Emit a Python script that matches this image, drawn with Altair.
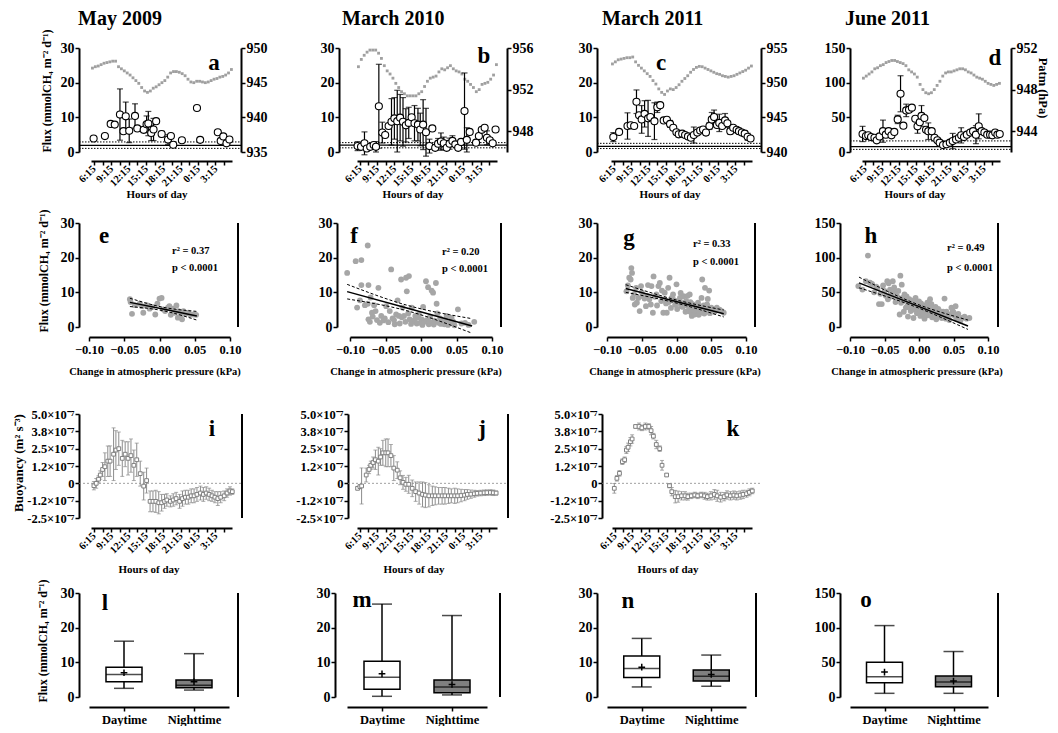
import json
import altair as alt
import pandas as pd

FONT = "Liberation Serif"
ONE = pd.DataFrame({"k": [0]})
PLOT_H = 104
COL_W = [157, 144, 141, 138]
ROW_H = [104, 120, 108, 104]

FLUX_TITLE = "Flux (mmolCH₄ m⁻² d⁻¹)"
BUOY_TITLE = "Buoyancy (m² s⁻³)"
COL_TITLES = ["May 2009", "March 2010", "March 2011", "June 2011"]

TIME_TICKS = [0, 1.5, 3, 4.5, 6, 7.5, 9, 10.5, 12, 13.5, 15, 16.5, 18, 19.5, 21, 22.5]
TIME_LABELS = ["6:15", "", "9:15", "", "12:15", "", "15:15", "", "18:15", "", "21:15", "", "0:15", "", "3:15", ""]
TIME_DOMAIN = [-0.5, 23.85]

# ---------------- Row 1: flux (hour, flux, sd) ----------------
A_PTS = [(-0.05, 3.9, 0), (1.9, 4.6, 0), (2.9, 8.1, 0), (3.6, 7.9, 0), (4.5, 10.8, 7.4), (5.1, 6.0, 0),
         (5.5, 10.3, 4.1), (6.1, 6.1, 3.4), (7.1, 10.4, 3.5), (7.5, 6.8, 0), (8.6, 6.4, 0.8), (9.1, 8.0, 2.4),
         (9.4, 8.2, 3.5), (9.9, 5.5, 2.2), (10.3, 6.5, 3.2), (10.75, 8.9, 0), (11.7, 5.2, 0.8), (12.8, 3.6, 1.4),
         (13.3, 4.6, 0), (13.7, 2.1, 0), (15.2, 3.4, 0), (17.8, 12.7, 0), (18.35, 3.5, 0), (21.4, 5.7, 0),
         (21.9, 3.2, 0), (22.35, 4.5, 0), (22.9, 2.5, 0), (23.4, 3.6, 0)]
B_PTS = [(-0.4, 1.7, 1.3), (0.2, 1.5, 0), (0.8, 2.5, 3.3), (1.2, 1.0, 0), (1.8, 1.5, 0), (2.4, 2.0, 0),
         (2.8, 1.5, 1.5), (3.3, 13.2, 12.1), (3.9, 5.6, 3.0), (4.4, 4.9, 0), (5.0, 7.5, 0), (5.5, 8.7, 6.7),
         (6.0, 9.7, 6.0), (6.5, 8.9, 8.9), (7.0, 9.9, 6.7), (7.5, 8.7, 7.0), (8.0, 7.7, 4.8), (8.5, 8.4, 4.5),
         (9.0, 10.0, 0), (9.5, 8.3, 5.1), (10.1, 7.9, 4.7), (10.5, 6.5, 4.7), (11.0, 7.9, 7.2), (11.5, 5.7, 6.9),
         (12.1, 1.7, 2.0), (12.6, 6.8, 0), (13.1, 1.2, 0), (13.6, 2.4, 1.5), (14.1, 3.0, 2.5), (14.6, 2.5, 1.8),
         (15.1, 1.2, 0), (15.6, 2.4, 1.6), (16.1, 3.2, 1.5), (16.6, 2.2, 0), (17.1, 1.2, 0), (17.6, 2.9, 0),
         (18.2, 11.8, 11.0), (18.6, 3.5, 3.5), (19.1, 5.8, 0), (20.2, 2.7, 0), (20.7, 4.6, 0), (21.2, 6.4, 0),
         (21.7, 7.0, 0), (22.1, 4.1, 2.0), (22.6, 3.4, 0), (23.1, 2.5, 0), (23.6, 6.5, 0)]
C_PTS = [(-0.1, 4.3, 1.3), (0.9, 5.8, 0), (2.35, 7.5, 3.8), (2.9, 7.7, 0), (3.5, 7.5, 0), (3.9, 14.5, 3.4),
         (4.35, 10.6, 0), (4.8, 9.4, 4.0), (5.3, 11.0, 3.8), (5.9, 9.7, 5.2), (6.3, 10.1, 0), (7.0, 8.9, 5.3),
         (7.5, 12.9, 1.5), (8.0, 13.5, 0), (8.6, 9.1, 0), (9.15, 9.3, 0), (9.7, 8.1, 1.0), (10.25, 7.0, 0),
         (10.8, 5.7, 0), (11.2, 5.1, 0.8), (11.8, 5.3, 0), (12.3, 4.9, 0), (12.8, 4.5, 0), (13.3, 4.1, 0.6),
         (13.8, 4.9, 2.3), (14.4, 5.6, 0), (14.9, 6.2, 0), (15.4, 6.5, 0), (15.9, 5.6, 0.8), (16.5, 7.5, 1.0),
         (16.9, 9.4, 2.0), (17.3, 10.1, 2.0), (17.8, 7.8, 0), (18.2, 8.4, 2.5), (18.7, 7.5, 0), (19.2, 9.1, 2.0),
         (19.6, 8.3, 0), (20.1, 6.0, 0.8), (20.6, 7.0, 0), (21.2, 6.4, 0), (21.6, 6.0, 0.8), (22.1, 5.6, 0),
         (22.6, 5.3, 0.8), (23.1, 4.4, 1.0), (23.6, 3.9, 0)]
D_PTS = [(-0.4, 26, 11), (0.2, 23, 0), (0.6, 24, 0), (1.1, 21.5, 0), (1.7, 20.6, 0), (2.1, 16.8, 0),
         (2.6, 22.5, 0), (3.2, 30, 16), (3.7, 25, 0), (4.2, 30, 0), (4.7, 24, 0), (5.2, 29, 0), (5.8, 47, 6),
         (6.3, 84, 26), (6.8, 38, 0), (7.3, 60, 9), (7.8, 61, 0), (8.3, 64, 0), (8.9, 48, 0), (9.3, 37, 10),
         (9.7, 43, 0), (10.0, 52, 15), (10.5, 49, 0), (10.8, 32, 0), (11.2, 30, 12), (11.8, 30, 0),
         (12.3, 20.6, 0), (12.8, 16.8, 0), (13.2, 13.4, 0), (13.8, 10, 0), (14.4, 11, 0), (15.0, 13.4, 0),
         (15.5, 15.8, 11), (16.1, 18, 0), (16.6, 20.6, 0), (17.0, 24, 11), (17.5, 21.5, 0), (18.0, 25, 0),
         (18.6, 28, 0), (19.1, 30, 0), (19.6, 25, 13), (20.1, 37, 18), (20.6, 30, 0), (21.1, 28, 0),
         (21.6, 25, 0), (22.1, 25, 0), (22.5, 24, 0), (23.0, 28, 0), (23.4, 25, 0), (23.8, 26, 0)]

P_HOURS = [-0.25, 0.25, 0.75, 1.25, 1.75, 2.25, 2.75, 3.25, 3.75, 4.25, 4.75, 5.25, 5.75, 6.25, 6.75,
           7.25, 7.75, 8.25, 8.75, 9.25, 9.75, 10.25, 10.75, 11.25, 11.75, 12.25, 12.75, 13.25, 13.75,
           14.25, 14.75, 15.25, 15.75, 16.25, 16.75, 17.25, 17.75, 18.25, 18.75, 19.25, 19.75, 20.25,
           20.75, 21.25, 21.75, 22.25, 22.75, 23.25, 23.75]
A_PATM = [947.1, 947.3, 947.4, 947.6, 947.8, 947.9, 948.0, 948.1, 948.1, 947.3, 947.0, 946.7, 946.4,
          946.1, 945.7, 945.3, 944.9, 944.3, 943.8, 943.6, 943.8, 944.2, 944.4, 944.7, 945.0, 945.3,
          945.8, 946.4, 946.6, 946.6, 946.5, 946.3, 946.0, 945.5, 945.1, 945.0, 945.2, 945.2, 945.1,
          945.0, 945.1, 945.3, 945.5, 945.6, 945.8, 945.9, 946.1, 946.4, 946.9]
B_PATM = [954.2, 954.9, 955.3, 955.6, 955.8, 955.8, 955.8, 955.5, 955.0, 954.3, 953.8, 953.5, 953.1,
          952.6, 952.2, 951.8, 951.6, 951.4, 951.4, 951.4, 951.4, 951.6, 951.8, 952.3, 952.8, 953.1,
          953.2, 953.3, 953.7, 954.0, 953.9, 954.1, 954.3, 954.0, 953.8, 953.7, 953.5, 953.0, 952.8,
          952.5, 952.2, 951.8, 952.0, 952.5, 952.6, 952.7, 953.0, 953.4, 954.4]
C_PATM = [952.7, 953.0, 953.3, 953.4, 953.5, 953.6, 953.6, 953.7, 953.0, 952.5, 952.1, 951.7, 951.3,
          950.9, 950.3, 949.8, 949.1, 948.6, 948.3, 948.8, 949.1, 949.0, 949.3, 949.7, 950.2, 950.6,
          951.0, 951.5, 951.9, 952.2, 952.35, 952.3, 952.1, 951.9, 951.7, 951.5, 951.3, 951.2, 951.0,
          950.9, 950.8, 950.9, 951.0, 951.2, 951.4, 951.6, 951.8, 952.1, 952.4]
D_PATM = [949.1, 949.3, 949.5, 949.7, 950.0, 950.1, 950.3, 950.4, 950.6, 950.7, 950.8, 950.8, 950.7,
          950.6, 950.5, 950.3, 949.9, 949.7, 949.5, 949.2, 948.5, 948.0, 947.7, 947.6, 947.7, 948.0,
          948.4, 948.8, 949.3, 949.6, 949.7, 949.7, 949.8, 949.9, 950.0, 950.0, 949.9, 949.7, 949.6,
          949.4, 949.2, 949.1, 949.0, 948.8, 948.6, 948.5, 948.4, 948.5, 948.6]
# reference lines: upper dotted, solid, lower dotted
A_REFS = [2.9, 1.9, 1.05]
B_REFS = [2.7, 2.0, 1.2]
C_REFS = [2.5, 1.6, 1.0]
D_REFS = [16, 7.7, 3.8]

# ---------------- Row 2: flux vs change in pressure ----------------
E_POINTS = [(-0.042, 8.0), (-0.041, 7.2), (-0.039, 3.8), (-0.035, 6.3), (-0.028, 6.7), (-0.025, 6.0),
            (-0.023, 4.1), (-0.018, 6.3), (-0.014, 5.3), (-0.010, 5.8), (-0.006, 3.6), (-0.003, 6.7),
            (0.000, 8.2), (0.003, 8.4), (0.005, 5.1), (0.008, 4.6), (0.012, 5.6), (0.014, 6.0), (0.016, 3.5),
            (0.019, 5.3), (0.021, 4.1), (0.024, 6.2), (0.026, 2.7), (0.027, 4.6), (0.030, 3.2), (0.032, 2.2),
            (0.034, 4.6), (0.037, 3.8), (0.041, 4.1), (0.044, 3.5), (0.048, 3.6), (0.052, 3.5)]
F_POINTS = [(-0.104, 15.6), (-0.092, 19.0), (-0.084, 19.3), (-0.090, 5.6), (-0.086, 7.7), (-0.084, 12.1),
            (-0.079, 6.3), (-0.075, 6.7), (-0.074, 12.1), (-0.075, 23.5), (-0.074, 2.2), (-0.072, 1.5),
            (-0.071, 8.5), (-0.069, 4.1), (-0.066, 6.3), (-0.064, 4.6), (-0.060, 11.3), (-0.058, 1.2),
            (-0.056, 3.2), (-0.053, 1.9), (-0.051, 2.5), (-0.049, 6.0), (-0.042, 16.6), (-0.040, 2.5),
            (-0.037, 0.8), (-0.035, 3.6), (-0.033, 7.7), (-0.031, 3.2), (-0.028, 13.7), (-0.026, 5.6),
            (-0.024, 3.2), (-0.021, 14.2), (-0.020, 10.3), (-0.017, 14.7), (-0.016, 2.2), (-0.013, 5.6),
            (-0.011, 1.7), (-0.008, 3.2), (-0.006, 1.0), (-0.004, 2.7), (-0.001, 1.2), (0.001, 2.2),
            (0.003, 5.8), (0.005, 1.5), (0.007, 13.2), (0.010, 11.5), (0.011, 0.8), (0.013, 3.0),
            (0.015, 10.5), (0.017, 9.9), (0.019, 1.8), (0.021, 12.7), (0.022, 6.7), (0.025, 1.2),
            (0.027, 2.5), (0.030, 1.7), (0.033, 0.8), (0.036, 3.2), (0.040, 1.2), (0.043, 2.6),
            (0.047, 0.5), (0.052, 5.1), (0.057, 1.0), (0.062, 1.2), (0.067, 0.6), (0.075, 1.5),
            (-0.068, 3.0), (-0.062, 2.0), (-0.046, 1.4), (-0.044, 4.6), (-0.038, 2.0), (-0.030, 1.0),
            (-0.027, 2.8), (-0.022, 1.5), (-0.018, 3.9), (-0.014, 0.9), (-0.009, 2.0), (-0.003, 3.6),
            (0.002, 0.6), (0.008, 2.0), (0.012, 1.5), (0.018, 0.7), (0.023, 3.9), (0.028, 0.9),
            (0.034, 1.8), (0.038, 0.6), (0.045, 1.6)]
G_POINTS = [(-0.072, 10.3), (-0.068, 14.2), (-0.065, 17.0), (-0.064, 15.6), (-0.066, 13.7), (-0.063, 8.4),
            (-0.060, 6.5), (-0.058, 11.3), (-0.055, 8.4), (-0.053, 4.6), (-0.051, 11.8), (-0.048, 8.9),
            (-0.046, 8.2), (-0.041, 12.1), (-0.036, 11.8), (-0.034, 4.1), (-0.033, 14.6), (-0.029, 9.4),
            (-0.026, 11.8), (-0.024, 12.7), (-0.022, 7.5), (-0.019, 4.1), (-0.017, 9.9), (-0.014, 4.1),
            (-0.012, 11.3), (-0.010, 14.2), (-0.007, 8.4), (-0.005, 9.4), (0.000, 12.3), (0.002, 7.5),
            (0.005, 8.4), (0.007, 6.0), (0.010, 8.9), (0.014, 7.5), (0.017, 4.6), (0.019, 9.4), (0.022, 3.2),
            (0.024, 5.6), (0.026, 3.6), (0.029, 6.0), (0.034, 4.1), (0.036, 8.4), (0.037, 13.7), (0.041, 11.3),
            (0.043, 5.6), (0.046, 4.6), (0.050, 5.6), (0.058, 5.6), (0.065, 4.6), (0.068, 4.1),
            (-0.070, 12.0), (-0.061, 9.5), (-0.057, 7.0), (-0.050, 10.0), (-0.044, 6.0), (-0.042, 9.0),
            (-0.039, 8.0), (-0.037, 6.5), (-0.031, 8.7), (-0.028, 6.2), (-0.021, 10.5), (-0.018, 8.0),
            (-0.015, 6.8), (-0.011, 7.2), (-0.008, 5.5), (-0.004, 7.8), (-0.002, 6.4), (0.001, 5.2),
            (0.004, 6.9), (0.006, 9.8), (0.009, 5.8), (0.011, 7.0), (0.013, 4.4), (0.015, 6.3), (0.016, 9.0),
            (0.018, 5.1), (0.020, 7.2), (0.021, 4.2), (0.023, 6.6), (0.025, 4.8), (0.027, 3.8), (0.028, 5.3),
            (0.030, 4.5), (0.031, 7.0), (0.032, 3.5), (0.033, 5.8), (0.035, 4.9), (0.038, 4.3), (0.039, 6.2),
            (0.040, 3.9), (0.042, 4.8), (0.044, 6.5), (0.045, 8.1), (0.047, 10.5), (0.048, 4.0), (0.052, 5.0),
            (0.055, 4.4), (0.062, 5.0)]
H_POINTS = [(-0.088, 59), (-0.082, 54), (-0.077, 66), (-0.074, 103), (-0.071, 64), (-0.068, 62), (-0.065, 50),
            (-0.062, 58), (-0.060, 56), (-0.058, 33), (-0.056, 48), (-0.054, 33), (-0.052, 60), (-0.050, 52),
            (-0.048, 45), (-0.046, 66), (-0.044, 63), (-0.042, 54), (-0.040, 44), (-0.038, 66), (-0.036, 57),
            (-0.034, 36), (-0.032, 45), (-0.030, 52), (-0.028, 18), (-0.027, 74), (-0.025, 61), (-0.024, 42),
            (-0.022, 22), (-0.020, 38), (-0.019, 28), (-0.018, 44), (-0.016, 15), (-0.015, 33), (-0.014, 40),
            (-0.012, 23), (-0.011, 37), (-0.010, 29), (-0.008, 13), (-0.007, 35), (-0.006, 25), (-0.005, 42),
            (-0.003, 20), (-0.002, 31), (0.000, 37), (0.001, 24), (0.002, 16), (0.003, 34), (0.005, 27),
            (0.006, 19), (0.007, 31), (0.008, 12), (0.009, 29), (0.011, 22), (0.012, 35), (0.013, 17),
            (0.015, 25), (0.016, 40), (0.017, 20), (0.019, 14), (0.020, 27), (0.022, 18), (0.023, 24),
            (0.025, 11), (0.027, 21), (0.029, 16), (0.031, 19), (0.033, 13), (0.035, 22), (0.037, 41),
            (0.039, 12), (0.041, 17), (0.044, 10), (0.047, 28), (0.049, 23), (0.052, 16), (0.055, 12),
            (0.060, 9), (0.066, 15), (0.069, 12), (0.073, 13),
            (-0.045, 40), (-0.041, 48), (-0.035, 51), (-0.031, 41), (-0.026, 35), (-0.021, 47), (-0.017, 30),
            (-0.013, 28), (-0.009, 38), (-0.004, 33), (0.004, 22), (0.010, 26), (0.014, 30), (0.018, 33),
            (0.021, 21), (0.024, 29), (0.026, 15), (0.028, 26), (0.030, 23), (0.032, 18), (0.034, 17),
            (0.036, 14), (0.038, 20), (0.040, 22), (0.042, 14), (0.046, 18), (0.050, 21), (0.053, 30),
            (0.057, 19), (0.062, 13)]
# regression line and 95% band: x, fit, upper, lower
E_FIT = [(-0.042, 7.1, 8.3, 5.9), (0.005, 5.2, 5.7, 4.7), (0.053, 3.2, 4.5, 2.0)]
F_FIT = [(-0.104, 10.2, 12.3, 8.1), (-0.02, 5.5, 6.3, 4.7), (0.072, 0.3, 2.4, -1.8)]
G_FIT = [(-0.073, 11.1, 12.2, 10.0), (-0.002, 7.45, 7.9, 7.0), (0.068, 3.8, 4.9, 2.9)]
H_FIT = [(-0.087, 63.7, 72.0, 56.5), (-0.008, 32.6, 35.0, 30.2), (0.071, 1.4, 10.0, -3.5)]
R2_TEXT = ["r² = 0.37", "r² = 0.20", "r² = 0.33", "r² = 0.49"]
P_TEXT = "p < 0.0001"
KPA_TICKS = [-0.1, -0.05, 0, 0.05, 0.1]

# ---------------- Row 3: buoyancy (hour, value in 1e-7 m2 s-3, sd) ----------------
BUOY_TICKS = [-2.5, -1.25, 0, 1.25, 2.5, 3.75, 5.0]
BUOY_LABELS = ["-2.5×10⁻⁷", "-1.2×10⁻⁷", "0", "1.2×10⁻⁷", "2.5×10⁻⁷", "3.8×10⁻⁷", "5.0×10⁻⁷"]
I_PTS = [(0.0, -0.17, 0.3), (0.4, 0.0, 0.35), (0.8, 0.3, 0.25), (1.1, 0.6, 0.3), (1.5, 1.0, 0.5), (1.9, 1.2, 1.0),
         (2.4, 1.6, 1.1), (2.8, 1.6, 1.1), (3.4, 2.1, 1.9), (3.8, 2.4, 1.4), (4.3, 2.5, 1.2), (4.9, 1.8, 1.3),
         (5.4, 2.1, 0.9), (5.9, 1.8, 1.2), (6.4, 2.0, 1.2), (6.9, 1.3, 1.1), (7.4, 1.7, 1.2), (8.0, 0.7, 0.9),
         (8.6, -0.2, 1.0), (9.1, 0.2, 0.9), (9.7, -1.3, 0.75), (10.2, -1.3, 0.75), (10.7, -1.3, 0.8),
         (11.2, -1.4, 0.8), (11.7, -1.4, 0.6), (12.2, -1.3, 0.5), (12.6, -1.2, 0.45), (13.2, -1.3, 0.4),
         (13.7, -1.2, 0.45), (14.2, -1.1, 0.45), (14.8, -1.3, 0.5), (15.3, -1.1, 0.55), (15.8, -1.0, 0.5),
         (16.3, -1.0, 0.5), (16.8, -0.9, 0.5), (17.3, -0.9, 0.5), (17.8, -0.8, 0.5), (18.4, -0.7, 0.5),
         (18.9, -0.8, 0.5), (19.4, -0.7, 0.45), (19.9, -0.8, 0.45), (20.4, -0.9, 0.4), (20.9, -1.0, 0.4),
         (21.4, -1.1, 0.5), (21.9, -1.0, 0.4), (22.5, -0.9, 0.35), (23.0, -0.7, 0.3), (23.5, -0.55, 0.3),
         (23.9, -0.6, 0.2)]
J_PTS = [(-0.4, -0.36, 0.1), (0.0, -0.24, 0.15), (0.3, -0.19, 1.3), (1.1, 0.6, 0.5), (1.6, 1.0, 0.3),
         (1.9, 1.3, 0.3), (2.3, 1.5, 0.4), (2.7, 1.7, 0.7), (3.2, 1.6, 1.0), (3.6, 1.9, 0.6), (4.0, 2.2, 0.9),
         (4.5, 2.2, 1.0), (4.9, 2.2, 1.0), (5.4, 2.0, 0.8), (5.9, 1.1, 0.9), (6.5, 0.95, 0.6), (7.0, 0.4, 0.5),
         (7.5, 0.07, 0.5), (8.0, -0.07, 0.5), (8.5, -0.07, 0.65), (9.1, -0.36, 0.6), (9.7, -0.6, 0.7),
         (10.3, -0.7, 0.8), (10.9, -0.8, 0.9), (11.4, -0.85, 0.9), (12.0, -0.9, 0.8), (12.6, -0.9, 0.7),
         (13.1, -0.9, 0.65), (13.7, -0.9, 0.6), (14.3, -0.9, 0.6), (14.8, -0.9, 0.6), (15.4, -0.9, 0.55),
         (15.9, -0.9, 0.5), (16.5, -0.9, 0.55), (17.0, -0.9, 0.5), (17.6, -0.88, 0.45), (18.2, -0.85, 0.4),
         (18.7, -0.8, 0.35), (19.3, -0.78, 0.3), (19.9, -0.75, 0.25), (20.4, -0.72, 0.2), (21.0, -0.7, 0.2),
         (21.6, -0.68, 0.2), (22.1, -0.67, 0.2), (22.7, -0.66, 0.2), (23.2, -0.68, 0.2), (23.7, -0.7, 0.15)]
K_PTS = [(-0.1, -0.36, 0.35), (0.35, 0.36, 0.2), (0.8, 0.72, 0.2), (1.3, 1.56, 0.2), (1.7, 1.7, 0.2),
         (2.0, 2.4, 0.25), (2.3, 2.6, 0.3), (2.7, 3.0, 0.3), (3.0, 3.2, 0.3), (3.6, 4.1, 0.1), (4.2, 4.1, 0.25),
         (4.7, 4.0, 0.2), (5.3, 4.1, 0.25), (5.9, 4.1, 0.2), (6.3, 3.8, 0.3), (6.7, 3.4, 0.2), (7.2, 2.8, 0.3),
         (7.8, 2.5, 0.2), (8.2, 1.3, 0.35), (9.0, 0.6, 0.1), (9.5, -0.17, 0.15), (9.9, -0.6, 0.3),
         (10.5, -0.96, 0.45), (11.0, -0.96, 0.4), (11.6, -0.9, 0.3), (12.2, -0.9, 0.3), (12.7, -0.96, 0.25),
         (13.3, -0.9, 0.2), (13.9, -0.84, 0.2), (14.4, -0.9, 0.2), (15.0, -0.84, 0.2), (15.6, -0.9, 0.25),
         (16.1, -0.96, 0.25), (16.7, -0.9, 0.3), (17.3, -0.8, 0.35), (17.8, -0.9, 0.4), (18.4, -1.0, 0.35),
         (19.0, -0.96, 0.3), (19.5, -0.84, 0.3), (20.1, -0.9, 0.3), (20.7, -0.85, 0.3), (21.2, -0.9, 0.3),
         (21.8, -0.85, 0.3), (22.3, -0.8, 0.3), (22.9, -0.75, 0.25), (23.4, -0.65, 0.25), (23.9, -0.55, 0.2)]

# ---------------- Row 4: box plots (min, q1, median, q3, max, mean) ----------------
CATS = ["Daytime", "Nighttime"]
L_BOX = [(2.5, 4.4, 6.5, 8.6, 16.1, 7.0), (2.0, 2.7, 3.4, 4.9, 12.5, 4.4)]
M_BOX = [(0.2, 2.2, 5.7, 10.3, 26.8, 6.7), (0.6, 1.2, 2.9, 4.9, 23.5, 3.6)]
N_BOX = [(2.9, 5.6, 8.2, 11.8, 16.9, 8.6), (3.1, 4.6, 6.0, 7.8, 12.1, 6.5)]
O_BOX = [(5.3, 20.6, 29.2, 50.3, 103, 35.9), (5.3, 14.8, 21.6, 30.2, 65.6, 23.0)]

LETTER_SIZE = 23


def txt(s, x, y, size=11, angle=0, align="center", baseline="alphabetic"):
    return alt.Chart(ONE).mark_text(text=s, font=FONT, fontWeight="bold", fontSize=size, angle=angle,
                                    align=align, baseline=baseline, color="black").encode(
        x=alt.value(x), y=alt.value(y))


def vline(x, y1=0, y2=PLOT_H, w=2):
    return alt.Chart(ONE).mark_rule(color="black", strokeWidth=w).encode(
        x=alt.value(x), y=alt.value(y1), y2=alt.value(y2))


def anchor_v(x):
    return alt.Chart(ONE).mark_rule(opacity=0).encode(x=alt.value(x), y=alt.value(40), y2=alt.value(41))


def time_axis(offset):
    expr = json.dumps(TIME_LABELS) + "[indexof(" + json.dumps(TIME_TICKS) + ", datum.value)]"
    return alt.Axis(values=TIME_TICKS, labelExpr=expr, labelAngle=315, labelAlign="right",
                    labelBaseline="middle", labelFontSize=10.5, labelPadding=2, tickSize=4,
                    offset=offset, title=None)


def yaxis(values, offset, size=14, expr=None):
    kw = dict(values=values, offset=offset, labelFontSize=size, tickSize=4, labelPadding=1, title=None)
    if expr:
        kw["labelExpr"] = expr
    return alt.Axis(**kw)


R1 = [
    dict(pts=A_PTS, patm=A_PATM, refs=A_REFS, ydom=[0, 30], yticks=[0, 10, 20, 30], pdom=[935, 950],
         pticks=[935, 940, 945, 950], rng=[1, 142], yoff=11, roff=-6, letter=("a", 124, 22), tx=-12, hx=67),
    dict(pts=B_PTS, patm=B_PATM, refs=B_REFS, ydom=[0, 30], yticks=[0, 10, 20, 30], pdom=[946, 956],
         pticks=[948, 952, 956], rng=[0, 140], yoff=18, roff=6, letter=("b", 127, 15), tx=-15, hx=56),
    dict(pts=C_PTS, patm=C_PATM, refs=C_REFS, ydom=[0, 30], yticks=[0, 10, 20, 30], pdom=[940, 955],
         pticks=[940, 945, 950, 955], rng=[0, 141], yoff=14, roff=9, letter=("c", 50, 22), tx=-9, hx=59),
    dict(pts=D_PTS, patm=D_PATM, refs=D_REFS, ydom=[0, 150], yticks=[0, 50, 100, 150], pdom=[942, 952],
         pticks=[944, 948, 952], rng=[0, 138], yoff=12, roff=11, letter=("d", 133, 17), tx=-17, hx=53),
]


def row1(k):
    s = R1[k]
    W = COL_W[k]
    df = pd.DataFrame(s["pts"], columns=["h", "f", "sd"])
    df["lo"] = df["f"] - df["sd"]
    df["hi"] = df["f"] + df["sd"]
    err = df[df["sd"] > 0]
    xe = alt.X("h:Q", scale=alt.Scale(domain=TIME_DOMAIN, range=s["rng"], nice=False, zero=False),
               axis=time_axis(9), title=None)
    ys = alt.Scale(domain=s["ydom"], range=[PLOT_H, 0], nice=False, zero=False)
    yax = yaxis(s["yticks"], s["yoff"])

    def ye(f):
        return alt.Y(f + ":Q", scale=ys, axis=yax, title=None)

    xl, xr = -s["yoff"], W + s["roff"]
    ref_solid = pd.DataFrame({"v": [s["refs"][1]]})
    ref_dot = pd.DataFrame({"v": [s["refs"][0], s["refs"][2]]})
    solid = alt.Chart(ref_solid).mark_rule(color="black", strokeWidth=1.2).encode(
        y=ye("v"), x=alt.value(xl), x2=alt.value(xr))
    dotted = alt.Chart(ref_dot).mark_rule(color="black", strokeWidth=1, strokeDash=[1.5, 1.5]).encode(
        y=ye("v"), x=alt.value(xl), x2=alt.value(xr))
    bars = alt.Chart(err).mark_rule(color="black", strokeWidth=1.2).encode(x=xe, y=ye("lo"), y2="hi")
    cap_lo = alt.Chart(err).mark_tick(orient="horizontal", size=6, thickness=1.2, color="black").encode(
        x=xe, y=ye("lo"))
    cap_hi = alt.Chart(err).mark_tick(orient="horizontal", size=6, thickness=1.2, color="black").encode(
        x=xe, y=ye("hi"))
    pts = alt.Chart(df).mark_point(shape="circle", filled=True, fill="white", stroke="black",
                                   strokeWidth=1.1, size=50, opacity=1).encode(x=xe, y=ye("f"))
    flux = alt.layer(solid, dotted, bars, cap_lo, cap_hi, pts)
    pdf = pd.DataFrame({"h": P_HOURS, "p": s["patm"]})
    press = alt.Chart(pdf).mark_square(size=8, color="#a0a0a0", opacity=1).encode(
        x=xe,
        y=alt.Y("p:Q", scale=alt.Scale(domain=s["pdom"], range=[PLOT_H, 0], nice=False, zero=False),
                axis=alt.Axis(orient="right", values=s["pticks"], offset=s["roff"], labelFontSize=14,
                              tickSize=4, labelPadding=1, title=None), title=None))
    layers = [press, flux,
              txt(s["letter"][0], s["letter"][1], s["letter"][2], size=LETTER_SIZE),
              txt(COL_TITLES[k], s["tx"], -23, size=20, align="left"),
              txt("Hours of day", s["hx"], 150, size=11)]
    if k == 0:
        layers.append(txt(FLUX_TITLE, -43, 43, size=12, angle=270, baseline="middle"))
        # invisible layout anchors (left-most and top-most extent)
        layers.append(anchor_v(-82))
        layers.append(alt.Chart(ONE).mark_rule(opacity=0).encode(
            x=alt.value(0), x2=alt.value(1), y=alt.value(-40)))
    if k == 3:
        layers.append(txt("Patm (hPa)", 181, 40, size=12.5, angle=90, baseline="middle"))
        # invisible right-most anchor so the rotated title is never clipped
        layers.append(anchor_v(187))
    return alt.layer(*layers).resolve_scale(y="independent").properties(width=W, height=ROW_H[0])


R2 = [
    dict(pts=E_POINTS, fit=E_FIT, ydom=[0, 30], yticks=[0, 10, 20, 30], rng=[-1, 140], yoff=11, rline=148,
         letter=("e", 14, 20), tx=82, ty=(31, 48), cx=65),
    dict(pts=F_POINTS, fit=F_FIT, ydom=[0, 30], yticks=[0, 10, 20, 30], rng=[-7, 135], yoff=20, rline=144,
         letter=("f", -3, 20), tx=85, ty=(32, 49), cx=59),
    dict(pts=G_POINTS, fit=G_FIT, ydom=[0, 30], yticks=[0, 10, 20, 30], rng=[-4, 135], yoff=14, rline=144,
         letter=("g", 18, 22), tx=82, ty=(24, 42), cx=64),
    dict(pts=H_POINTS, fit=H_FIT, ydom=[0, 150], yticks=[0, 50, 100, 150], rng=[-12, 126], yoff=22,
         rline=136, letter=("h", 9, 20), tx=85, ty=(28, 48), cx=55),
]


def row2(k):
    s = R2[k]
    W = COL_W[k]
    df = pd.DataFrame(s["pts"], columns=["x", "y"])
    fit = pd.DataFrame(s["fit"], columns=["x", "m", "u", "l"])
    xs = alt.Scale(domain=[-0.1, 0.1], range=s["rng"], nice=False, zero=False)
    xax = alt.Axis(values=KPA_TICKS, format=".2f", offset=-6, labelFontSize=12.5, tickSize=4,
                   labelPadding=2, title=None)
    xe = alt.X("x:Q", scale=xs, axis=xax, title=None)
    ys = alt.Scale(domain=s["ydom"], range=[PLOT_H, 0], nice=False, zero=False)
    yax = yaxis(s["yticks"], s["yoff"])

    def ye(f):
        return alt.Y(f + ":Q", scale=ys, axis=yax, title=None)

    pts = alt.Chart(df).mark_circle(size=34, color="#a6a6a6", opacity=1).encode(x=xe, y=ye("y"))
    line = alt.Chart(fit).mark_line(color="black", strokeWidth=1.5).encode(x=xe, y=ye("m"))
    up = alt.Chart(fit).mark_line(color="black", strokeWidth=1, strokeDash=[3, 2],
                                  interpolate="monotone").encode(x=xe, y=ye("u"))
    lo = alt.Chart(fit).mark_line(color="black", strokeWidth=1, strokeDash=[3, 2],
                                  interpolate="monotone").encode(x=xe, y=ye("l"))
    layers = [pts, line, up, lo, vline(s["rline"]),
              txt(s["letter"][0], s["letter"][1], s["letter"][2], size=LETTER_SIZE),
              txt(R2_TEXT[k], s["tx"], s["ty"][0], size=10.5, align="left"),
              txt(P_TEXT, s["tx"], s["ty"][1], size=10.5, align="left"),
              txt("Change in atmospheric pressure (kPa)", s["cx"], 152, size=10.5)]
    if k == 0:
        layers.append(txt(FLUX_TITLE, -46, 48, size=12, angle=270, baseline="middle"))
    return alt.layer(*layers).properties(width=W, height=ROW_H[1])


R3 = [
    dict(pts=I_PTS, rng=[1, 142], yoff=11, rline=152, letter=("i", 122, 22), hx=59),
    dict(pts=J_PTS, rng=[0, 140], yoff=9, rline=151, letter=("j", 125, 22), hx=57),
    dict(pts=K_PTS, rng=[1, 141], yoff=9, rline=None, letter=("k", 122, 22), hx=57),
]


def row3(k):
    s = R3[k]
    W = COL_W[k]
    df = pd.DataFrame(s["pts"], columns=["h", "b", "sd"])
    df["lo"] = df["b"] - df["sd"]
    df["hi"] = df["b"] + df["sd"]
    xe = alt.X("h:Q", scale=alt.Scale(domain=TIME_DOMAIN, range=s["rng"], nice=False, zero=False),
               axis=time_axis(6), title=None)
    ys = alt.Scale(domain=[-2.5, 5], range=[PLOT_H, 0], nice=False, zero=False)
    expr = json.dumps(BUOY_LABELS, ensure_ascii=False) + "[indexof(" + json.dumps(BUOY_TICKS) + ", datum.value)]"
    yax = yaxis(BUOY_TICKS, s["yoff"], size=12.5, expr=expr)

    def ye(f):
        return alt.Y(f + ":Q", scale=ys, axis=yax, title=None)

    zx2 = s["rline"] if s["rline"] else s["rng"][1] + 8
    zero = alt.Chart(pd.DataFrame({"z": [0]})).mark_rule(color="#888888", strokeWidth=0.8,
                                                           strokeDash=[2, 2]).encode(
        y=ye("z"), x=alt.value(-s["yoff"]), x2=alt.value(zx2))
    bars = alt.Chart(df).mark_rule(color="#8c8c8c", strokeWidth=1).encode(x=xe, y=ye("lo"), y2="hi")
    cap_lo = alt.Chart(df).mark_tick(orient="horizontal", size=4, thickness=1, color="#8c8c8c").encode(
        x=xe, y=ye("lo"))
    cap_hi = alt.Chart(df).mark_tick(orient="horizontal", size=4, thickness=1, color="#8c8c8c").encode(
        x=xe, y=ye("hi"))
    pts = alt.Chart(df).mark_point(shape="square", filled=True, fill="white", stroke="#808080",
                                   strokeWidth=1, size=14, opacity=1).encode(x=xe, y=ye("b"))
    layers = [zero, bars, cap_lo, cap_hi, pts,
              txt(s["letter"][0], s["letter"][1], s["letter"][2], size=LETTER_SIZE),
              txt("Hours of day", s["hx"], 159, size=11)]
    if s["rline"]:
        layers.append(vline(s["rline"]))
    if k == 0:
        layers.append(txt(BUOY_TITLE, -71, 49, size=13, angle=270, baseline="middle"))
    return alt.layer(*layers).properties(width=W, height=ROW_H[2])


R4 = [
    dict(box=L_BOX, ydom=[0, 30], yticks=[0, 10, 20, 30], rng=[-1, 139], yoff=11, rline=148, letter=("l", 15, 17)),
    dict(box=M_BOX, ydom=[0, 30], yticks=[0, 10, 20, 30], rng=[-10, 130], yoff=22, rline=143, letter=("m", 5, 14)),
    dict(box=N_BOX, ydom=[0, 30], yticks=[0, 10, 20, 30], rng=[-4, 135], yoff=14, rline=145, letter=("n", 17, 15)),
    dict(box=O_BOX, ydom=[0, 150], yticks=[0, 50, 100, 150], rng=[-12, 126], yoff=22, rline=136,
         letter=("o", 4, 14)),
]
PLUS = "M-1,0L1,0M0,-1L0,1"


def row4(k):
    s = R4[k]
    W = COL_W[k]
    df = pd.DataFrame(s["box"], columns=["lo", "q1", "med", "q3", "hi", "mean"])
    df["cat"] = CATS
    xe = alt.X("cat:N", scale=alt.Scale(type="point", domain=CATS, range=s["rng"], padding=0.5),
               axis=alt.Axis(offset=10, labelAngle=0, labelFontSize=12.5, tickSize=4, labelPadding=2,
                             title=None), title=None)
    ys = alt.Scale(domain=s["ydom"], range=[PLOT_H, 0], nice=False, zero=False)
    yax = yaxis(s["yticks"], s["yoff"])

    def ye(f):
        return alt.Y(f + ":Q", scale=ys, axis=yax, title=None)

    whisk = alt.Chart(df).mark_rule(color="black", strokeWidth=1.5).encode(x=xe, y=ye("lo"), y2="hi")
    cap_lo = alt.Chart(df).mark_tick(orient="horizontal", size=20, thickness=1.5, color="black").encode(
        x=xe, y=ye("lo"))
    cap_hi = alt.Chart(df).mark_tick(orient="horizontal", size=20, thickness=1.5, color="black").encode(
        x=xe, y=ye("hi"))
    box = alt.Chart(df).mark_bar(size=36, stroke="black", strokeWidth=1.5, opacity=1).encode(
        x=xe, y=ye("q1"), y2="q3",
        fill=alt.Fill("cat:N", scale=alt.Scale(domain=CATS, range=["white", "#7f7f7f"]), legend=None))
    med = alt.Chart(df).mark_tick(orient="horizontal", size=36, thickness=1.5, color="black").encode(
        x=xe, y=ye("med"))
    mean = alt.Chart(df).mark_point(shape=PLUS, filled=False, stroke="black", strokeWidth=1.5,
                                    size=45, opacity=1).encode(x=xe, y=ye("mean"))
    layers = [whisk, cap_lo, cap_hi, box, med, mean, vline(s["rline"]),
              txt(s["letter"][0], s["letter"][1], s["letter"][2], size=LETTER_SIZE)]
    if k == 0:
        layers.append(txt(FLUX_TITLE, -47, 48, size=12, angle=270, baseline="middle"))
    return alt.layer(*layers).properties(width=W, height=ROW_H[3])


placeholder = alt.Chart(ONE).mark_point(opacity=0).encode(
    x=alt.value(0), y=alt.value(0)).properties(width=COL_W[3], height=ROW_H[2])

cells = ([row1(k) for k in range(4)] + [row2(k) for k in range(4)] +
         [row3(k) for k in range(3)] + [placeholder] + [row4(k) for k in range(4)])

chart = alt.concat(*cells, columns=4, spacing={"row": 71, "column": 110}, bounds="flush", align="each")
chart = chart.properties(
    padding={"left": 0, "top": 0, "right": 0, "bottom": 0},
    autosize=alt.AutoSizeParams(type="pad"),
).configure_axis(
    labelFont=FONT, labelFontWeight="bold", labelColor="black", titleFont=FONT,
    domainColor="black", domainWidth=2, tickColor="black", tickWidth=1.5, grid=False,
    labelFlush=False, labelOverlap=False,
).configure_view(stroke=None)

chart.save("out.html", embed_options={"renderer": "svg", "actions": False})
